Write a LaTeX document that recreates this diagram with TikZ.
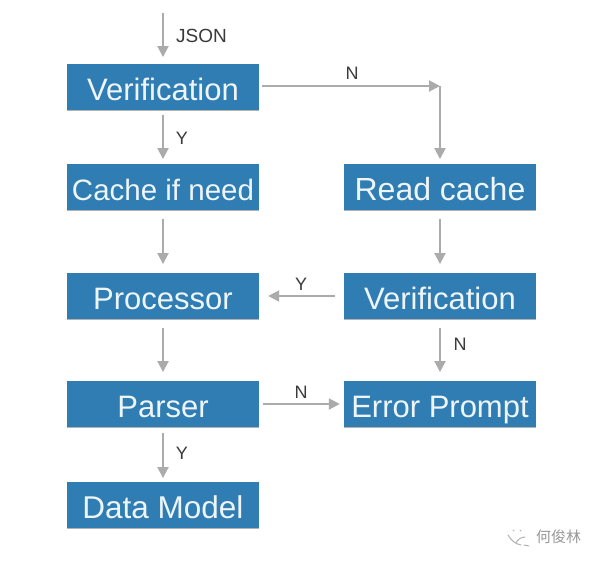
\documentclass[tikz,border=0pt]{standalone}
\usepackage{fontspec}
\setmainfont{Liberation Sans}
\newfontfamily\cjkfont{Noto Sans CJK SC}
\usetikzlibrary{arrows.meta,shadows}
\definecolor{boxblue}{HTML}{2F7DB2}
\definecolor{flowgray}{HTML}{ABABAB}
\definecolor{labelgray}{HTML}{3A3A3A}
\tikzset{
  x=1pt,y=-1pt,
  flowbox/.style={fill=boxblue,text=white!92!boxblue,minimum width=192pt,minimum height=45.5pt,inner sep=0pt,
    text height=30pt,text depth=4pt,
    font=\fontsize{#1}{#1}\selectfont,
    drop shadow={shadow xshift=0pt,shadow yshift=-1.5pt,opacity=.3,fill=black}},
  flowbox/.default=31,
  flow/.style={draw=flowgray,line width=2pt,-{Triangle[length=11pt,width=11pt]}},
  widegap/.style={shorten <=9pt,shorten >=9pt},
  narrowgap/.style={shorten <=5pt,shorten >=5pt},
  tightgap/.style={shorten <=3.5pt,shorten >=4pt},
  plainflow/.style={draw=flowgray,line width=2pt},
  lab/.style={text=labelgray,inner sep=0pt,font=\fontsize{18}{18}\selectfont},
}
\begin{document}
\begin{tikzpicture}
\useasboundingbox (0,0) rectangle (600,563);
\fill[white] (0,0) rectangle (600,563);
\node[flowbox] (ver) at (163,87) {Verification};
\node[flowbox=29.5] (cache) at (163,187) {Cache if need};
\node[flowbox] (proc) at (163,296) {Processor};
\node[flowbox] (parser) at (163,404) {Parser};
\node[flowbox=31.5] (model) at (163,505) {Data Model};
\node[flowbox=32] (read) at (440,187) {Read cache};
\node[flowbox] (ver2) at (440,296) {Verification};
\node[flowbox] (err) at (440,404) {Error Prompt};
\coordinate (start) at (163,13);
\coordinate (elbow) at (440,86);
\draw[flow,shorten >=7pt] (start) -- (ver.north);
\draw[flow,narrowgap] (ver.south) -- (cache.north);
\draw[flow,widegap] (cache.south) -- (proc.north);
\draw[flow,widegap] (proc.south) -- (parser.north);
\draw[flow,shorten <=6pt,shorten >=4pt] (parser.south) -- (model.north);
\draw[flow,shorten <=3pt] (ver.east |- elbow) -- (elbow);
\draw[flow,shorten >=5pt] (elbow) -- (read.north);
\draw[flow,widegap] (read.south) -- (ver2.north);
\draw[flow,widegap] (ver2.west) -- (proc.east);
\draw[flow,widegap] (ver2.south) -- (err.north);
\draw[flow,tightgap] (parser.east) -- (err.west);
\node[lab,anchor=west,font=\fontsize{19}{19}\selectfont] (ljson) at (176,36) {JSON};
\node[lab] (ln1) at (352,73) {N};
\node[lab] (ly1) at (182,138) {Y};
\node[lab] (ly2) at (301,284) {Y};
\node[lab] (ln2) at (460,344) {N};
\node[lab] (ln3) at (301,392) {N};
\node[lab] (ly3) at (182,453) {Y};
\node[inner sep=0pt,text=gray!80,anchor=west,font=\cjkfont\fontsize{15}{15}\selectfont] (mark) at (536,537) {何俊林};
\draw[gray!60,line width=1pt,line cap=round] (508,535) .. controls (511,540) and (515,544) .. (521,545)
  (525,537) .. controls (521,537) and (517,540) .. (516,543)
  (513,530) -- (514,531) (520,530) -- (521,531) (524,545) -- (529,546);
\end{tikzpicture}
\end{document}
